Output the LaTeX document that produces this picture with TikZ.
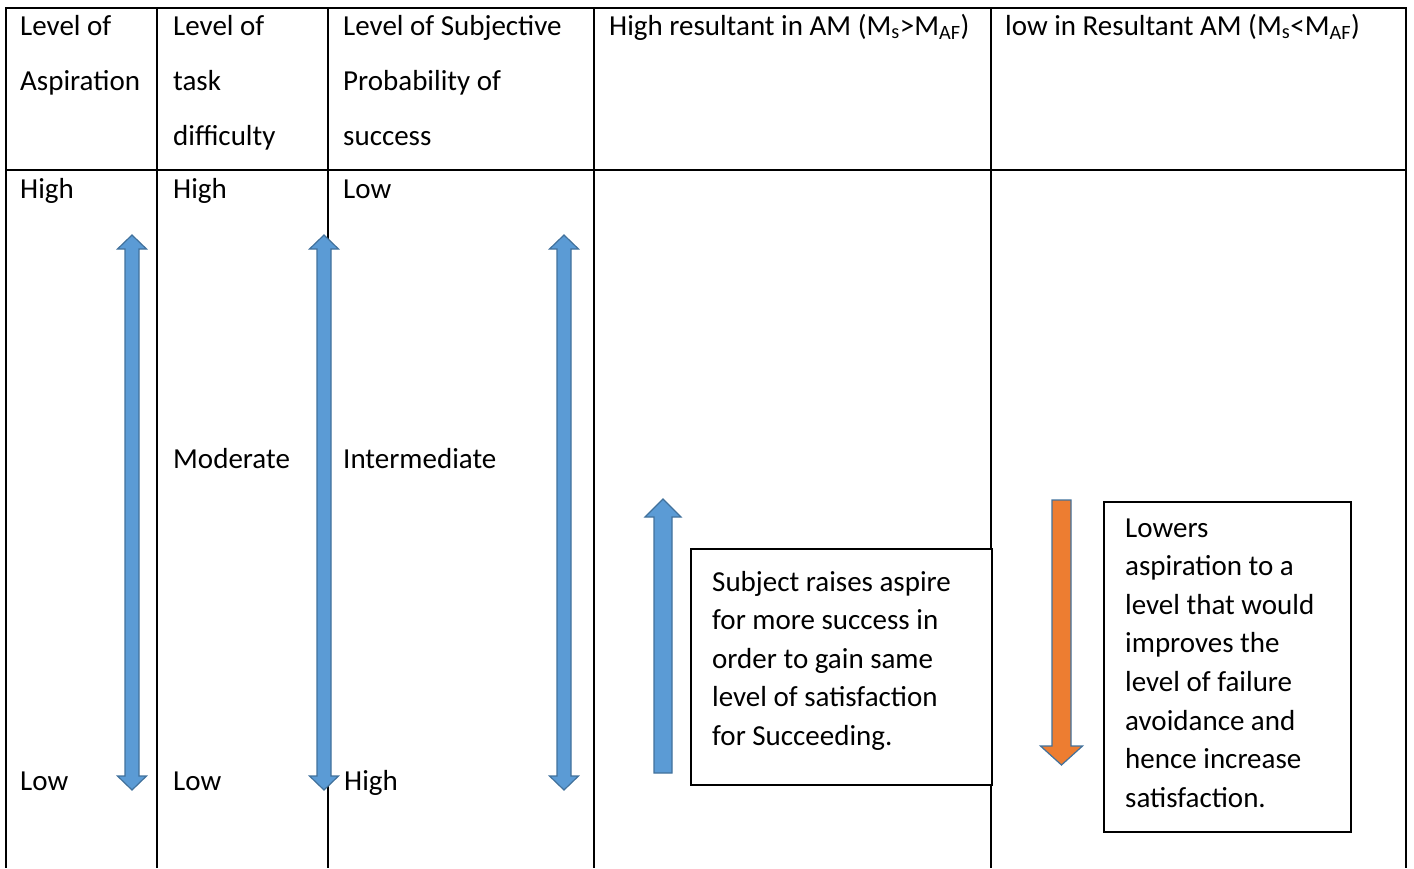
\documentclass[tikz,border=0pt]{standalone}
\usepackage{fontspec}
\setmainfont{Carlito}
\definecolor{arrowblue}{HTML}{5B9BD5}
\definecolor{arroworange}{HTML}{ED7D31}
\definecolor{arrowedge}{HTML}{41719C}
\newcommand\hdrfont{\fontsize{29}{55}\selectfont}
\newcommand\boxfont{\fontsize{29}{38.6}\selectfont}
% vertical block arrow with heads at both ends: centre x, top tip, bottom tip, head half-width, body half-width, head length
\newcommand\twowayarrow[6]{%
  \filldraw[bluearrow]
    (#1+#5,#2+#6) -- (#1+#4,#2+#6) -- (#1,#2) -- (#1-#4,#2+#6) -- (#1-#5,#2+#6)
    -- (#1-#5,#3-#6) -- (#1-#4,#3-#6) -- (#1,#3) -- (#1+#4,#3-#6) -- (#1+#5,#3-#6) -- cycle;}
\begin{document}
\begin{tikzpicture}[x=1pt,y=-1pt,
  grid/.style={line width=2pt,black},
  bluearrow/.style={fill=arrowblue,draw=arrowedge,line width=1.2pt,line join=miter},
  orangearrow/.style={fill=arroworange,draw=arrowedge,line width=1.2pt,line join=miter},
  cell/.style={anchor=base west,inner sep=0pt,font=\hdrfont},
  notebox/.style={draw=black,line width=1.6pt,fill=white,anchor=north west,inner sep=0pt},
  notetext/.style={anchor=base west,inner sep=0pt,font=\boxfont}]
\useasboundingbox (0,0) rectangle (1414,868);

% table rules
\coordinate (tl) at (6,8);
\coordinate (tr) at (1406,8);
\draw[grid] (5,8) -- (1407,8);
\draw[grid] (6,170) -- (1406,170);
\foreach \cx in {6,157,328,594,991,1406}{
  \draw[grid] (\cx,8) -- (\cx,868);
}

% header row
\node[cell] (h1) at (20,35) {\parbox[t]{130pt}{\hdrfont Level of\\Aspiration}};
\node[cell] (h2) at (173,35) {\parbox[t]{150pt}{\hdrfont Level of\\task\\difficulty}};
\node[cell] (h3) at (343,35) {\parbox[t]{250pt}{\hdrfont Level of Subjective\\Probability of\\success}};
\node[cell] (h4) at (609,35) {High resultant in AM (M\textsubscript{s}>M\textsubscript{AF})};
\node[cell] (h5) at (1005,35) {low in Resultant AM (M\textsubscript{s}<M\textsubscript{AF})};

% body labels
\node[cell] (a1) at (20,198) {High};
\node[cell] (a3) at (20,790) {Low};
\node[cell] (t1) at (173,198) {High};
\node[cell] (t2) at (173,468) {Moderate};
\node[cell] (t3) at (173,790) {Low};
\node[cell] (p1) at (343,198) {Low};
\node[cell] (p2) at (343,468) {Intermediate};
\node[cell] (p3) at (344,790) {High};

% two-way scales
\twowayarrow{132}{235}{790}{14.5}{7}{14}
\twowayarrow{324}{235}{790}{14.5}{7}{14}
\twowayarrow{564}{235}{790}{14.5}{7}{14}

% raising arrow
\filldraw[bluearrow] (672,517) -- (681,517) -- (663,499) -- (645,517) -- (654,517)
  -- (654,773) -- (672,773) -- cycle;
% lowering arrow
\filldraw[orangearrow] (1052,500) -- (1071,500) -- (1071,746) -- (1082.5,746)
  -- (1061.5,765) -- (1040.5,746) -- (1052,746) -- cycle;

% note boxes
\node[notebox,minimum width=301pt,minimum height=236pt] (b1) at (690,548) {};
\node[notetext] (b1t) at (712,591) {\parbox[t]{270pt}{\boxfont Subject raises aspire\\for more success in\\order to gain same\\level of satisfaction\\for Succeeding.}};
\node[notebox,minimum width=247pt,minimum height=330pt] (b2) at (1103,501) {};
\node[notetext] (b2t) at (1125,537) {\parbox[t]{220pt}{\boxfont Lowers\\aspiration to a\\level that would\\improves the\\level of failure\\avoidance and\\hence increase\\satisfaction.}};
\end{tikzpicture}
\end{document}
